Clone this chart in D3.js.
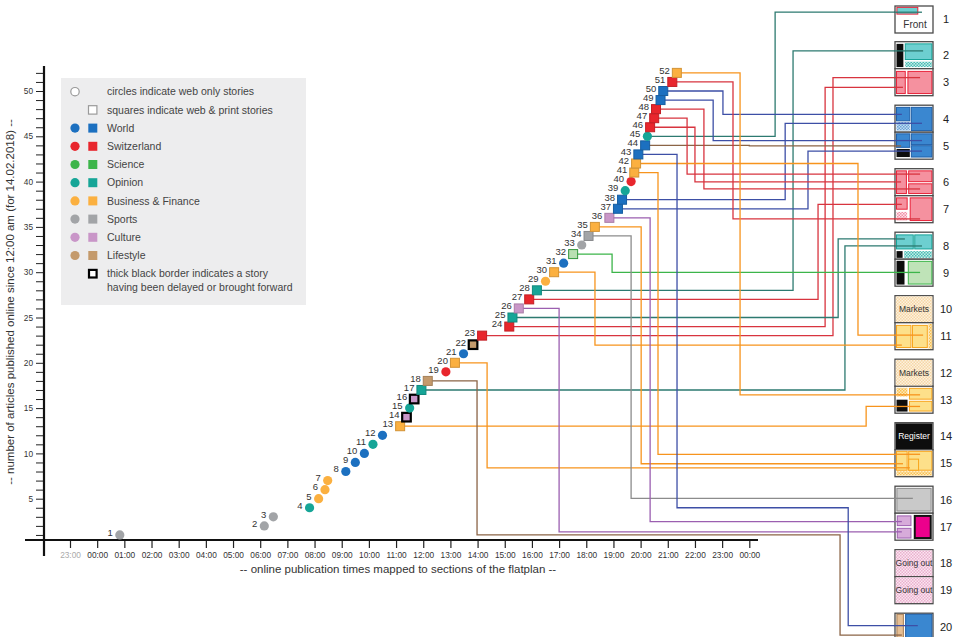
<!DOCTYPE html>
<html><head><meta charset="utf-8">
<script src="https://cdn.jsdelivr.net/npm/d3@7"></script>
<style>
body{margin:0;background:#fff;}
svg{display:block;font-family:"Liberation Sans",Arial,sans-serif;}
</style>
</head><body>
<svg id="c" width="953" height="637"></svg>
<script>
// ---------------- DATA ----------------
const sections = ["World","Switzerland","Science","Opinion","Business & Finance","Sports","Culture","Lifestyle"];
const sectionColors = ["#1c70c0","#e8262d","#3db54a","#16a597","#fbb040","#a2a4a7","#c996c8","#c49a6c"];
const sectionLineColors = ["#3d4fa6","#d8343f","#3cb54a","#2d7a70","#f7941d","#8c8c8c","#9b5fb0","#8b6446"];

const storyTimes = ["00:50","06:09","06:29","07:49","08:09","08:23","08:29","09:09","09:30","09:50",
  "10:09","10:30","11:09","11:23","11:30","11:40","11:56","12:10","12:50","13:10",
  "13:29","13:50","14:10","15:10","15:17","15:31","15:54","16:11","16:30","16:49",
  "17:10","17:31","17:50","18:05","18:19","18:51","19:10","19:19","19:26","19:39",
  "19:46","19:50","19:55","20:10","20:15","20:21","20:30","20:34","20:44","20:50",
  "21:10","21:20"];
const storySections = ["Sports","Sports","Sports","Opinion","Business & Finance","Business & Finance","Business & Finance","World","World","World",
  "Opinion","World","Business & Finance","Culture","Opinion","Culture","Opinion","Lifestyle","Switzerland","Business & Finance",
  "World","Lifestyle","Switzerland","Switzerland","Opinion","Culture","Switzerland","Opinion","Business & Finance","Business & Finance",
  "World","Science","Sports","Sports","Business & Finance","Culture","World","World","Opinion","Switzerland",
  "Business & Finance","Business & Finance","World","World","Opinion","Switzerland","Switzerland","Switzerland","World","World",
  "Switzerland","Business & Finance"];
// "c" = web only (circle), "s" = web & print (square)
const storyShapes = ["c","c","c","c","c","c","c","c","c","c",
  "c","c","s","s","c","s","s","s","c","s",
  "c","s","s","s","s","s","s","s","c","s",
  "c","s","c","s","s","s","s","s","c","c",
  "s","s","s","s","c","s","s","s","s","s",
  "s","s"];
const delayedStories = [14,16,22];

const xTickHours = d3.range(-1, 25);
const xTickLabels = ["23:00","00:00","01:00","02:00","03:00","04:00","05:00","06:00","07:00","08:00","09:00","10:00","11:00","12:00","13:00","14:00","15:00","16:00","17:00","18:00","19:00","20:00","21:00","22:00","23:00","00:00"];
const yTickValues = d3.range(1, 53);
const yTickLabels = [5,10,15,20,25,30,35,40,45,50];

// connectors: story -> flatplan page
const linkStories = [45,28,23,24,50,38,49,44,37,47,46,48,27,51,25,17,32,42,30,52,13,41,35,20,34,36,26,43,18];
const linkPages   = [1,2,3,3,4,4,5,5,5,6,6,6,7,7,8,8,9,11,11,13,13,15,15,15,16,17,17,20,20];
const linkSlots   = [0.23,0.34,0.33,0.69,0.34,0.67,0.31,0.51,0.70,0.2,0.49,0.75,0.32,0.86,0.25,0.51,0.49,0.46,0.83,0.32,0.75,0.17,0.52,0.67,0.45,0.31,0.69,0.46,0.81];
const linkEnds    = [0.71,0.74,0.66,0.21,0.18,0.71,0.71,0.16,0.71,0.66,0.16,0.66,0.18,0.66,0.26,0.71,0.66,0.74,0.18,0.66,0.66,0.66,0.21,0.39,0.47,0.18,0.18,0.6,0.18];
const linkBends   = [24.95,25.61,27.08,26.79,23.03,25.32,22.67,24.0,26.16,21.71,22.0,22.33,26.53,23.40,27.27,27.52,18.95,28.0,18.32,23.66,28.30,20.64,20.02,14.35,19.65,20.35,17.0,21.34,13.98];
const linkColorSection = {44:"Lifestyle"};
// detours: [drop level (article count), second bend hour]
const linkDetours = {43:[4.0,27.64], 18:[1.0,27.34]};

const pageNumbers = d3.range(1,21);
const pageTexts = {1:"Front",10:"Markets",12:"Markets",14:"Register",18:"Going out",19:"Going out"};
// blocks inside the flatplan pages: [page, x0, y0, x1, y1, style]
const pageBlocks = [
  [1,0.05,0.05,0.6,0.3,"tealFront"],
  [2,0.04,0.08,0.22,0.94,"black"],[2,0.27,0.08,0.97,0.66,"teal"],[2,0.27,0.74,0.97,0.94,"dotTeal"],
  [3,0.04,0.1,0.27,0.92,"red"],[3,0.34,0.1,0.97,0.92,"red"],
  [4,0.04,0.08,0.39,0.58,"blue"],[4,0.04,0.62,0.39,0.94,"dotBlue"],[4,0.43,0.08,0.97,0.94,"blue"],
  [5,0.04,0.06,0.39,0.56,"blue"],[5,0.04,0.62,0.39,0.92,"black"],[5,0.43,0.06,0.97,0.46,"blue"],[5,0.43,0.5,0.97,0.92,"blue"],
  [6,0.04,0.08,0.3,0.92,"red"],[6,0.36,0.08,0.97,0.48,"red"],[6,0.36,0.56,0.97,0.92,"red"],
  [7,0.04,0.08,0.32,0.5,"red"],[7,0.04,0.6,0.32,0.92,"dotPink"],[7,0.4,0.08,0.97,0.92,"red"],
  [8,0.04,0.1,0.48,0.62,"teal"],[8,0.52,0.1,0.97,0.62,"teal"],[8,0.04,0.7,0.2,0.95,"black"],[8,0.24,0.7,0.97,0.95,"dotTeal"],
  [9,0.04,0.06,0.25,0.94,"black"],[9,0.35,0.08,0.97,0.92,"green"],
  [10,0,0,1,1,"dotPeach"],
  [11,0.04,0.1,0.42,0.92,"orange"],[11,0.46,0.1,0.85,0.92,"orange"],[11,0.88,0.04,0.98,0.96,"dotOrange"],
  [12,0,0,1,1,"dotPeach"],
  [13,0.04,0.06,0.33,0.38,"dotOrange"],[13,0.38,0.08,0.97,0.48,"orange"],[13,0.04,0.5,0.33,0.94,"black"],[13,0.38,0.56,0.97,0.92,"orange"],
  [14,0,0,1,1,"black"],
  [15,0.04,0.06,0.32,0.76,"orange"],[15,0.36,0.06,0.97,0.76,"orange"],[15,0.36,0.35,0.62,0.76,"orange"],[15,0.04,0.8,0.97,0.96,"dotOrange"],
  [16,0.05,0.08,0.95,0.92,"gray"],
  [17,0.06,0.1,0.42,0.46,"purple"],[17,0.06,0.56,0.42,0.92,"purple"],[17,0.52,0.1,0.94,0.92,"magenta"],
  [18,0,0,1,1,"dotGoing"],[19,0,0,1,1,"dotGoing"],
  [20,0.05,0.04,0.22,1.0,"tan"],[20,0.28,0.04,0.97,1.0,"blue"]
];

// ---------------- LAYOUT ----------------
const svg = d3.select("#c");
const x = d3.scaleLinear().domain([-1, 24]).range([70, 749.3]);
const y = d3.scaleLinear().domain([0, 52]).range([544, 544 - 52*9.06]);
const colorOf = d3.scaleOrdinal().domain(sections).range(sectionColors);
const lineColorOf = d3.scaleOrdinal().domain(sections).range(sectionLineColors);
const toHours = t => { const [h,m] = t.split(":").map(Number); return h + m/60; };

const pageX = 895, pageW = 38, pageH = 27;
const pageTop = p => p === 1 ? 6 : 41.7 + (Math.floor(p/2)-1)*63.5 + (p % 2 === 1 ? pageH : 0);
const fullPages = [10,12,14,18,19];

const stories = storyTimes.map((t,i) => ({
  id: i+1, hour: toHours(t), section: storySections[i], shape: storyShapes[i],
  delayed: delayedStories.includes(i+1)
}));

// ---------------- PATTERNS ----------------
const defs = svg.append("defs");
function pattern(id, bg, fg){
  const p = defs.append("pattern").attr("id",id).attr("width",3).attr("height",3).attr("patternUnits","userSpaceOnUse");
  p.append("rect").attr("width",3).attr("height",3).attr("fill",bg);
  p.append("rect").attr("width",1.5).attr("height",1.5).attr("fill",fg);
  p.append("rect").attr("x",1.5).attr("y",1.5).attr("width",1.5).attr("height",1.5).attr("fill",fg);
}
pattern("dotTeal","#c6ebe8","#47bdb4");
pattern("dotBlue","#c3dbf0","#6aa4d9");
pattern("dotPink","#fde3ea","#f28fa6");
pattern("dotPeach","#fdf1de","#f6d7a6");
pattern("dotOrange","#fde9b8","#f9bf52");
pattern("dotGoing","#fbe6f0","#eab0cf");

const blockStyles = {
  tealFront:{fill:"#6dcfd0",stroke:"#e8233a",sw:1},
  teal:{fill:"#6dcfd0",stroke:"#17a398",sw:1},
  black:{fill:"#0d0d0d",stroke:"none",sw:0},
  red:{fill:"#f5919f",stroke:"#e8233a",sw:1},
  blue:{fill:"#3a87d0",stroke:"#1d5ea8",sw:1},
  green:{fill:"#bfe3b8",stroke:"#3cb54a",sw:1},
  orange:{fill:"#fde08a",stroke:"#f8a51c",sw:1},
  gray:{fill:"#c9c9c9",stroke:"#8c8c8c",sw:1},
  purple:{fill:"#d7abda",stroke:"#9e5fb0",sw:1},
  magenta:{fill:"#ec008c",stroke:"#111",sw:2},
  tan:{fill:"#e6bf94",stroke:"#a67c52",sw:1},
  dotTeal:{fill:"url(#dotTeal)",stroke:"none",sw:0},
  dotBlue:{fill:"url(#dotBlue)",stroke:"none",sw:0},
  dotPink:{fill:"url(#dotPink)",stroke:"none",sw:0},
  dotPeach:{fill:"url(#dotPeach)",stroke:"none",sw:0},
  dotOrange:{fill:"url(#dotOrange)",stroke:"none",sw:0},
  dotGoing:{fill:"url(#dotGoing)",stroke:"none",sw:0}
};

// ---------------- LEGEND ----------------
const lg = svg.append("g");
lg.append("rect").attr("x",61).attr("y",78).attr("width",245).attr("height",227).attr("fill","#ededee");
const legRowY = i => 91.7 + i*18.2;
const legText = (yy, txt) => lg.append("text").attr("x",107).attr("y",yy).attr("dy","0.35em")
  .attr("font-size",10.5).attr("fill","#444").text(txt);
lg.append("circle").attr("cx",75).attr("cy",legRowY(0)).attr("r",4.2).attr("fill","#fff").attr("stroke","#9a9a9a").attr("stroke-width",1.2);
legText(legRowY(0), "circles indicate web only stories");
lg.append("rect").attr("x",88.5).attr("y",legRowY(1)-4.2).attr("width",8.4).attr("height",8.4).attr("fill","#fff").attr("stroke","#9a9a9a").attr("stroke-width",1.2);
legText(legRowY(1), "squares indicate web & print stories");
sections.forEach((s,i) => {
  const yy = legRowY(i+2);
  lg.append("circle").attr("cx",75).attr("cy",yy).attr("r",4.6).attr("fill",colorOf(s));
  lg.append("rect").attr("x",88.3).attr("y",yy-4.5).attr("width",9).attr("height",9).attr("fill",colorOf(s));
  legText(yy, s);
});
lg.append("rect").attr("x",89).attr("y",legRowY(10)-3.8).attr("width",7.6).attr("height",7.6).attr("fill","#fff").attr("stroke","#000").attr("stroke-width",2.2);
legText(legRowY(10), "thick black border indicates a story");
legText(legRowY(10)+13.5, "having been delayed or brought forward");

// ---------------- AXES ----------------
const axisY0 = 540;
const xAxis = d3.axisBottom(x).tickValues(xTickHours).tickSize(8).tickSizeOuter(0)
  .tickFormat((d,i) => xTickLabels[i]);
const gx = svg.append("g").attr("transform",`translate(0,${axisY0})`).call(xAxis);
gx.select(".domain").remove();
gx.selectAll(".tick line").attr("stroke","#222").attr("stroke-width",1.2);
gx.selectAll(".tick text").attr("font-size",8.3).attr("fill",(d,i)=> i===0 ? "#aaa" : "#333").attr("y",12).attr("font-family","Liberation Sans, Arial, sans-serif");
svg.append("line").attr("x1",25).attr("x2",758).attr("y1",axisY0).attr("y2",axisY0).attr("stroke","#111").attr("stroke-width",2.2);

const yAxis = d3.axisLeft(y).tickValues(yTickValues).tickSize(8).tickSizeOuter(0)
  .tickFormat(d => yTickLabels.includes(d) ? d : "");
const gy = svg.append("g").attr("transform","translate(44,0)").call(yAxis);
gy.select(".domain").remove();
gy.selectAll(".tick line").attr("stroke","#222").attr("stroke-width",1);
gy.selectAll(".tick text").attr("font-size",8.3).attr("fill","#333").attr("x",-11).attr("font-family","Liberation Sans, Arial, sans-serif");
svg.append("line").attr("x1",44).attr("x2",44).attr("y1",66).attr("y2",556).attr("stroke","#111").attr("stroke-width",2.2);

svg.append("text").attr("x",398).attr("y",573).attr("text-anchor","middle").attr("font-size",11.5).attr("fill","#333")
  .text("-- online publication times mapped to sections of the flatplan --");
svg.append("text").attr("transform","translate(14,302) rotate(-90)").attr("text-anchor","middle").attr("font-size",11.5).attr("fill","#333")
  .text("-- number of articles published online since 12:00 am (for 14.02.2018) --");

// ---------------- CONNECTORS ----------------
const storyById = new Map(stories.map(s => [s.id, s]));
const lineGen = d3.line();
const lg2 = svg.append("g").attr("fill","none");
linkStories.forEach((sid,i) => {
  const s = storyById.get(sid);
  const x0 = x(s.hour), y0 = y(s.id);
  const xb = x(linkBends[i]);
  const ty = pageTop(linkPages[i]) + linkSlots[i]*pageH;
  const xe = pageX + linkEnds[i]*pageW;
  let pts;
  if (linkDetours[sid]) {
    const [lvl, b2] = linkDetours[sid];
    pts = [[x0,y0],[xb,y0],[xb,y(lvl)],[x(b2),y(lvl)],[x(b2),ty],[xe,ty]];
  } else {
    pts = [[x0,y0],[xb,y0],[xb,ty],[xe,ty]];
  }
  const sec = linkColorSection[sid] || s.section;
  lg2.append("path").attr("d",lineGen(pts)).attr("stroke",lineColorOf(sec)).attr("stroke-width",1.3);
});

// ---------------- PAGES ----------------
const pg = svg.append("g");
pageNumbers.forEach(p => {
  const t = pageTop(p);
  pg.append("rect").attr("x",pageX).attr("y",t).attr("width",pageW).attr("height",pageH)
    .attr("fill","#fff").attr("stroke","#4a4a4a").attr("stroke-width",1.3);
  pg.append("text").attr("x",946).attr("y",t+pageH/2).attr("dy","0.35em").attr("text-anchor","middle")
    .attr("font-size",11).attr("fill","#222").text(p);
});
const pbg = svg.append("g");
pageBlocks.forEach(b => {
  const [p,x0,y0,x1,y1,st] = b;
  const t = pageTop(p), s = blockStyles[st];
  const inset = fullPages.includes(p) ? 0.7 : 0;
  pbg.append("rect").attr("x",pageX + x0*pageW + inset).attr("y",t + y0*pageH + inset)
    .attr("width",(x1-x0)*pageW - 2*inset).attr("height",(y1-y0)*pageH - 2*inset)
    .attr("fill",s.fill).attr("stroke",s.stroke).attr("stroke-width",s.sw);
});
Object.entries(pageTexts).forEach(([p,txt]) => {
  p = +p;
  const t = pageTop(p);
  const isFront = p === 1;
  pbg.append("text").attr("x",pageX + pageW/2 + (isFront?1:0)).attr("y", t + (isFront ? 0.68 : 0.5)*pageH).attr("dy","0.35em")
    .attr("text-anchor","middle").attr("font-size", isFront ? 10 : 8.5)
    .attr("fill", p===14 ? "#fff" : "#333").text(txt);
});
// connector tails inside pages
const tails = svg.append("g").attr("fill","none");
linkStories.forEach((sid,i) => {
  const s = storyById.get(sid);
  const ty = pageTop(linkPages[i]) + linkSlots[i]*pageH;
  const xe = pageX + linkEnds[i]*pageW;
  const sec = linkColorSection[sid] || s.section;
  tails.append("line").attr("x1",pageX-1).attr("x2",xe).attr("y1",ty).attr("y2",ty)
    .attr("stroke",lineColorOf(sec)).attr("stroke-width",1.3);
});

// ---------------- MARKERS ----------------
const mk = svg.append("g");
stories.forEach(s => {
  const cx = x(s.hour), cy = y(s.id);
  const c = colorOf(s.section);
  if (s.shape === "c") {
    mk.append("circle").attr("cx",cx).attr("cy",cy).attr("r",4.6).attr("fill",c);
  } else if (s.delayed) {
    mk.append("rect").attr("x",cx-4.3).attr("y",cy-4.3).attr("width",8.6).attr("height",8.6)
      .attr("fill",c).attr("stroke","#000").attr("stroke-width",2.2);
  } else {
    const fill = s.section === "Science" ? "#b9e0b2" : c;
    mk.append("rect").attr("x",cx-4.5).attr("y",cy-4.5).attr("width",9).attr("height",9)
      .attr("fill",fill).attr("stroke",d3.color(colorOf(s.section)).darker(0.5)).attr("stroke-width",1);
  }
  mk.append("text").attr("x",cx-7).attr("y",cy-2.5).attr("dy","0.35em").attr("text-anchor","end")
    .attr("font-size",9.5).attr("fill","#333").text(s.id);
});
</script>
</body></html>
